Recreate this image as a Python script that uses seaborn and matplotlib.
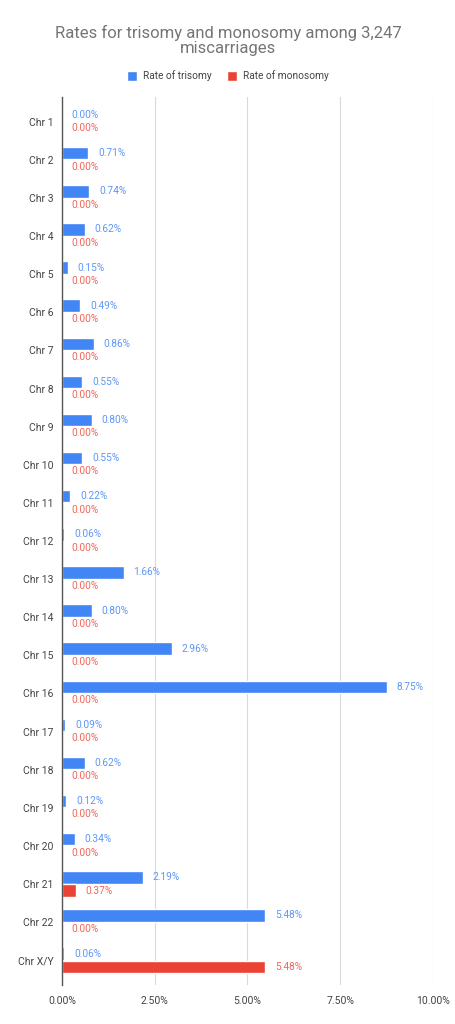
import matplotlib
matplotlib.use('Agg')
import matplotlib.pyplot as plt
import seaborn as sns
import pandas as pd
from matplotlib.patches import Patch

chromosomes = ['Chr 1', 'Chr 2', 'Chr 3', 'Chr 4', 'Chr 5', 'Chr 6', 'Chr 7', 'Chr 8',
               'Chr 9', 'Chr 10', 'Chr 11', 'Chr 12', 'Chr 13', 'Chr 14', 'Chr 15',
               'Chr 16', 'Chr 17', 'Chr 18', 'Chr 19', 'Chr 20', 'Chr 21', 'Chr 22',
               'Chr X/Y']
trisomy = [0.00, 0.71, 0.74, 0.62, 0.15, 0.49, 0.86, 0.55, 0.80, 0.55, 0.22, 0.06,
           1.66, 0.80, 2.96, 8.75, 0.09, 0.62, 0.12, 0.34, 2.19, 5.48, 0.06]
monosomy = [0.00, 0.00, 0.00, 0.00, 0.00, 0.00, 0.00, 0.00, 0.00, 0.00, 0.00, 0.00,
            0.00, 0.00, 0.00, 0.00, 0.00, 0.00, 0.00, 0.00, 0.37, 0.00, 5.48]
series_names = ['Rate of trisomy', 'Rate of monosomy']
x_ticks = [0, 2.5, 5, 7.5, 10]

blue = '#4285F4'
red = '#EA4335'
label_colors = ['#5e97f6', '#ee675c']

df = pd.DataFrame({
    'chrom': chromosomes * 2,
    'rate': trisomy + monosomy,
    'series': [series_names[0]] * len(chromosomes) + [series_names[1]] * len(chromosomes),
})

sns.set_style('white')
plt.rcParams['font.family'] = ['Roboto', 'DejaVu Sans']

fig = plt.figure(figsize=(4.56, 10.24), dpi=100)
ax = fig.add_axes([62 / 456, 1 - 985 / 1024, (433 - 62) / 456, (985 - 97) / 1024])

sns.barplot(data=df, y='chrom', x='rate', hue='series', orient='h',
            palette=[blue, red], saturation=1, width=0.7, gap=0.06, ax=ax,
            legend=False, errorbar=None)

for cont, col in zip(ax.containers, label_colors):
    vals = [bar.get_width() for bar in cont]
    ax.bar_label(cont, labels=[f'{v:.2f}%' for v in vals], padding=7,
                 fontsize=7.3, color=col)

ax.set_xlim(0, 10)
ax.set_ylim(22.65, -0.65)
ax.set_xticks(x_ticks)
ax.set_xticklabels([f'{t:.2f}%' for t in x_ticks])
ax.grid(axis='x', color='#d9d9d9', linewidth=0.8)
ax.set_axisbelow(True)
ax.set_xlabel('')
ax.set_ylabel('')
ax.tick_params(axis='both', length=0, labelsize=7.5, labelcolor='#444444')
ax.tick_params(axis='y', pad=6)
ax.tick_params(axis='x', pad=8)
for side in ['top', 'right', 'bottom']:
    ax.spines[side].set_visible(False)
ax.spines['left'].set_color('#555555')
ax.spines['left'].set_linewidth(1)

fig.text(0.5, 1 - 40 / 1024, 'Rates for trisomy and monosomy among 3,247\nmiscarriages',
         ha='center', va='center', fontsize=12, color='#757575', linespacing=1.0)

handles = [Patch(facecolor=blue), Patch(facecolor=red)]
fig.legend(handles, series_names, loc='center', bbox_to_anchor=(0.5, 1 - 76 / 1024),
           ncol=2, frameon=False, fontsize=7.3, handlelength=1.0, handleheight=1.0,
           columnspacing=1.5, handletextpad=0.6, labelcolor='#444444')

fig.savefig('out.png', dpi=100)
